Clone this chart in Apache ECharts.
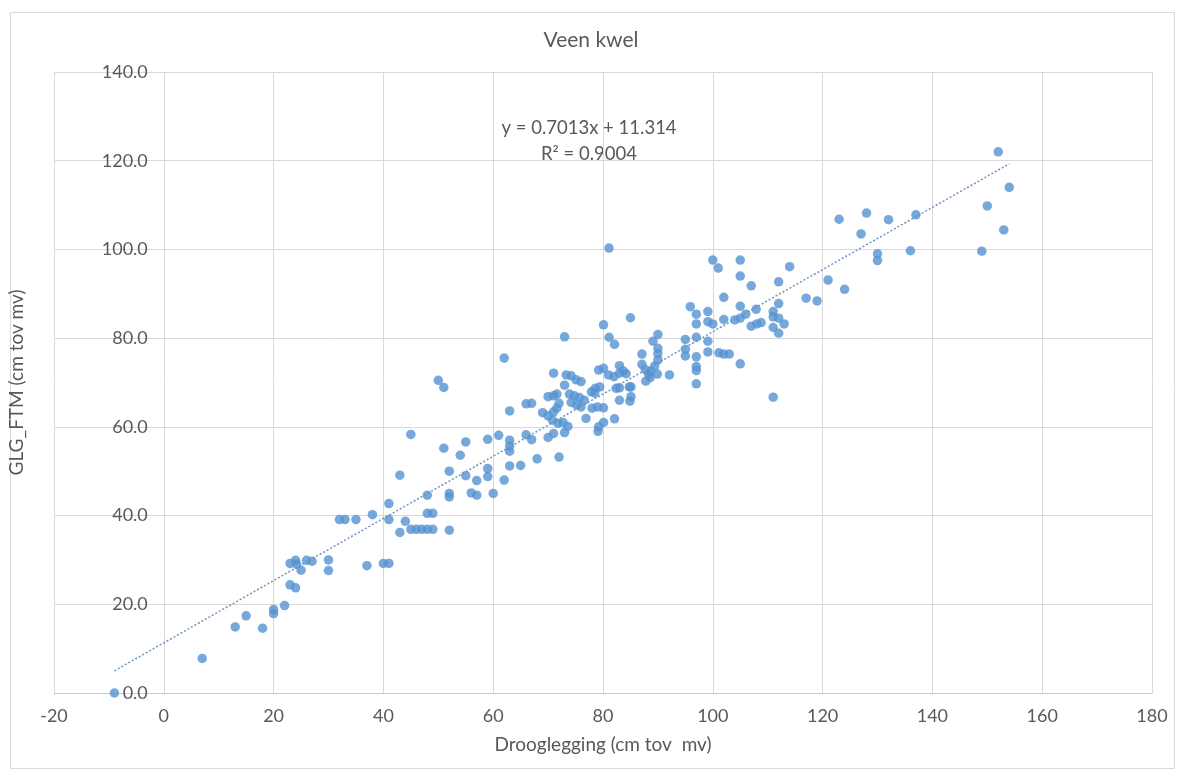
<!DOCTYPE html>
<html>
<head>
<meta charset="utf-8">
<script src="https://cdn.jsdelivr.net/npm/echarts@6/dist/echarts.min.js"></script>
<style>
html,body{margin:0;padding:0;background:#fff;}
#chart{width:1182px;height:771px;}
</style>
</head>
<body>
<div id="chart"></div>
<script>
// Chart texts
var chartTitle = 'Veen kwel';
var xAxisTitle = 'Drooglegging (cm tov  mv)';
var yAxisTitle = 'GLG_FTM (cm tov mv)';
var equationText = 'y = 0.7013x + 11.314';
var r2Text = 'R\u00b2 = 0.9004';

// Axis ranges / ticks
var xTicks = [-20, 0, 20, 40, 60, 80, 100, 120, 140, 160, 180];
var yTicks = [0, 20, 40, 60, 80, 100, 120, 140];

// Observations: Drooglegging (x)
var droog = [
 -9, 7, 13, 15, 18, 20, 20, 22, 23, 24, 23, 24, 24.2, 25, 26, 27, 30, 30, 32, 33,
 35, 37, 38, 40, 41, 41, 41, 43, 43, 44, 45, 45, 46, 47, 48, 49, 48, 49, 48, 50,
 51, 51, 52, 52, 52, 52, 54, 55, 55, 56, 57, 57, 59, 59, 59, 60, 61, 62, 62, 63,
 63, 63, 63, 63, 65, 66, 67, 66, 67, 68, 69, 70, 70, 71, 72, 71, 73, 70, 71, 71.6,
 72, 71.6, 71, 70.8, 71.8, 72.7, 73.6, 73, 73, 73.3, 74.2, 75.1, 76, 73.9, 74.8, 75.7, 76.6, 74.2, 75.2, 76,
 76.9, 77.9, 78.6, 79.4, 78.5, 78, 79, 80.1, 79.1, 79.2, 80.1, 82.1, 79.2, 80.1, 81, 82, 83, 83.7, 83, 84.2,
 82.4, 83, 84.8, 83, 84.9, 85.1, 85.1, 80.1, 81.1, 82.1, 81.1, 85, 87.1, 87.1, 87.7, 88.3, 88.7, 89.4, 87.8, 89.9,
 88.6, 89.1, 90, 90, 90, 90, 92.1, 95, 95, 95, 95.9, 97, 97, 97, 97, 97, 97, 97,
 99.1, 99.1, 100, 99.1, 99.1, 100, 101, 101.1, 102, 103, 102, 102, 104, 105, 106, 105, 105, 105, 105, 107,
 107.9, 107, 108, 108.8, 111, 111, 112, 113, 111, 112, 112, 112, 114, 111, 117, 119, 121, 123, 124, 127,
 128, 130, 130, 132, 136, 137, 149, 150, 152, 153, 154
];
// Observations: GLG_FTM (y)
var glg = [
 0, 7.8, 14.9, 17.4, 14.6, 18.8, 17.9, 19.7, 24.4, 23.7, 29.2, 29.9, 29.0, 27.7, 29.9, 29.7, 30.0, 27.6, 39.1, 39.1,
 39.1, 28.7, 40.2, 29.2, 29.2, 42.7, 39.1, 49.1, 36.2, 38.7, 58.3, 36.9, 36.9, 36.9, 36.9, 36.9, 40.5, 40.5, 44.6, 70.5,
 68.9, 55.2, 50.0, 45.0, 44.2, 36.7, 53.6, 56.6, 49.0, 45.1, 44.6, 47.9, 50.6, 48.8, 57.2, 45.0, 58.1, 75.5, 48.0, 63.6,
 57.0, 55.7, 54.5, 51.2, 51.3, 65.2, 65.3, 58.2, 57.1, 52.8, 63.2, 62.5, 57.6, 58.5, 53.2, 72.1, 80.3, 66.8, 67.0, 67.4,
 65.3, 64.2, 63.4, 61.5, 60.8, 61.0, 60.1, 58.7, 69.4, 71.7, 71.5, 70.6, 70.2, 67.4, 67.0, 66.6, 66.0, 65.5, 64.9, 64.5,
 61.9, 67.9, 68.7, 69.0, 67.6, 64.2, 64.5, 64.3, 59.0, 60.0, 61.0, 61.8, 72.8, 73.2, 71.7, 71.3, 72.1, 72.6, 73.8, 72.0,
 68.7, 68.8, 69.0, 66.0, 65.8, 66.8, 69.0, 83.0, 80.2, 78.6, 100.3, 84.6, 76.4, 74.1, 72.9, 71.9, 72.6, 73.7, 70.3, 71.9,
 71.1, 79.3, 80.8, 77.7, 76.5, 75.1, 71.7, 79.7, 77.5, 76.0, 87.1, 85.4, 83.2, 80.2, 75.8, 73.6, 72.7, 69.7,
 86.0, 83.7, 83.2, 79.3, 76.9, 97.6, 95.8, 76.7, 76.4, 76.4, 89.2, 84.2, 84.1, 84.5, 85.4, 87.2, 97.6, 94.0, 74.2, 91.8,
 86.5, 82.7, 83.2, 83.5, 86.0, 84.8, 84.5, 83.2, 82.4, 81.1, 87.8, 92.7, 96.1, 66.7, 89.0, 88.4, 93.1, 106.8, 91.0, 103.5,
 108.2, 99.0, 97.5, 106.7, 99.7, 107.8, 99.6, 109.8, 122.0, 104.4, 114.0
];

// Linear trendline end points
var trendX = [-9, 154];
var trendY = [5.0, 119.3];

var points = droog.map(function (x, i) { return [x, glg[i]]; });
var trend = trendX.map(function (x, i) { return [x, trendY[i]]; });

var font = 'Lato, "Open Sans", sans-serif';
var textColor = '#595959';
var gridColor = '#d9d9d9';

var gridLeft = 54, gridRight = 30, gridWidth = 1182 - 54 - 30;
// y axis crosses the x axis at x = 0 (Excel style)
var yAxisOffset = -gridWidth * (0 - xTicks[0]) / (xTicks[xTicks.length - 1] - xTicks[0]);

var chart = echarts.init(document.getElementById('chart'));
chart.setOption({
  animation: false,
  backgroundColor: '#ffffff',
  title: {
    text: chartTitle,
    left: 'center',
    top: 25,
    textStyle: { fontFamily: font, fontSize: 21, fontWeight: 'normal', color: textColor }
  },
  grid: { left: gridLeft, right: gridRight, top: 72, bottom: 78, outerBoundsMode: 'none' },
  xAxis: {
    type: 'value',
    min: xTicks[0], max: xTicks[xTicks.length - 1], interval: 20,
    name: xAxisTitle, nameLocation: 'middle', nameGap: 42,
    nameTextStyle: { fontFamily: font, fontSize: 19, color: textColor },
    axisLine: { show: true, onZero: false, lineStyle: { color: '#c8c8c8', width: 1 } },
    axisTick: { show: false },
    axisLabel: { fontFamily: font, fontSize: 18, color: textColor, margin: 14 },
    splitLine: { show: true, lineStyle: { color: gridColor, width: 1 } }
  },
  yAxis: {
    type: 'value',
    min: yTicks[0], max: yTicks[yTicks.length - 1], interval: 20,
    offset: yAxisOffset,
    name: yAxisTitle, nameLocation: 'middle', nameGap: 137, nameRotate: 90,
    nameTextStyle: { fontFamily: font, fontSize: 19, color: textColor },
    axisLine: { show: true, onZero: false, lineStyle: { color: gridColor, width: 1 } },
    axisTick: { show: false },
    axisLabel: { fontFamily: font, fontSize: 18, color: textColor, margin: 16,
      formatter: function (v) { return v.toFixed(1); } },
    splitLine: { show: true, lineStyle: { color: gridColor, width: 1 } }
  },
  graphic: [
    { type: 'rect', left: 8, top: 10, shape: { width: 1164, height: 756 }, silent: true, z: -10,
      style: { fill: 'none', stroke: '#d9d9d9', lineWidth: 1 } },
    { type: 'text', x: 589, y: 128, silent: true,
      style: { text: equationText, fontFamily: font, fontSize: 18.5, fill: textColor, align: 'center', verticalAlign: 'middle' } },
    { type: 'text', x: 589, y: 154, silent: true,
      style: { text: r2Text, fontFamily: font, fontSize: 18.5, fill: textColor, align: 'center', verticalAlign: 'middle' } }
  ],
  series: [
    {
      type: 'scatter',
      data: points,
      symbol: 'circle',
      symbolSize: 9.5,
      itemStyle: { color: '#5592d2' },
      z: 2
    },
    {
      type: 'line',
      data: trend,
      symbol: 'none',
      lineStyle: { color: '#6f93bd', width: 1.5, type: [2, 2] },
      z: 3
    }
  ]
});
</script>
</body>
</html>
